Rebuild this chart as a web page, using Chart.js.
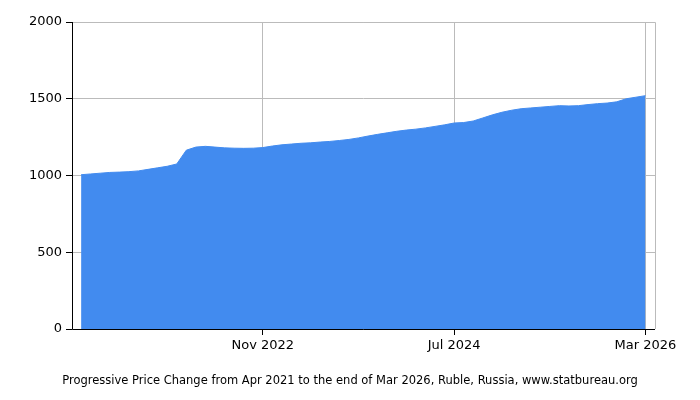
<!DOCTYPE html>
<html><head><meta charset="utf-8">
<script src="https://cdn.jsdelivr.net/npm/chart.js@4"></script>
<style>body{margin:0;background:#fff}</style>
</head><body>
<canvas id="c" width="700" height="400"></canvas>
<script>
const startLabel = "Apr 2021";
const values = [1005,1010,1015,1020,1022,1025,1030,1040,1050,1060,1075,1165,1185,1190,1185,1180,1178,1177,1178,1182,1192,1200,1205,1210,1213,1218,1222,1228,1235,1245,1257,1268,1278,1288,1296,1302,1310,1320,1330,1342,1345,1355,1375,1395,1412,1425,1435,1440,1445,1450,1455,1453,1455,1462,1468,1472,1480,1500,1510,1520];
const tickIdx = [19,39,59];
const tickLabels = ["Nov 2022","Jul 2024","Mar 2026"];
const yTicks = [0,500,1000,1500,2000];
const title = "Progressive Price Change from Apr 2021 to the end of Mar 2026, Ruble, Russia, www.statbureau.org";

const pts = values.map((v,i)=>({x:i,y:v}));
const frame = {id:'frame',afterDraw(c){const a=c.chartArea,x=c.ctx;x.save();x.strokeStyle='#bbb';x.lineWidth=1;
 x.beginPath();x.moveTo(a.left,a.top+0.5);x.lineTo(a.right+0.5,a.top+0.5);x.lineTo(a.right+0.5,a.bottom);x.stroke();
 x.strokeStyle='#000';x.beginPath();x.moveTo(a.left+0.5,a.top);x.lineTo(a.left+0.5,a.bottom+0.5);x.lineTo(a.right,a.bottom+0.5);x.stroke();
 x.fillStyle='#000';x.font='11.5px "DejaVu Sans"';x.textAlign='center';x.textBaseline='middle';x.fillText(title,350,381);
 x.restore();}};
Chart.defaults.font.family="DejaVu Sans";
new Chart(document.getElementById('c'),{
 type:'line',
 data:{datasets:[{data:pts,fill:'origin',backgroundColor:'#428bef',borderColor:'#428bef',borderWidth:1,pointRadius:0,tension:0}]},
 options:{responsive:false,animation:false,
  layout:{padding:{top:22,right:45,left:0,bottom:0}},
  plugins:{legend:{display:false},tooltip:{enabled:false},title:{display:false}},
  scales:{
   x:{type:'linear',min:-0.95,max:60,
    afterBuildTicks(s){s.ticks=tickIdx.map(v=>({value:v}));},
    afterFit(s){s.height=71;},
    ticks:{autoSkip:false,maxRotation:0,color:'#000',font:{size:13},callback:(v)=>tickLabels[tickIdx.indexOf(v)]},
    grid:{color:'#bbb',tickColor:'#000',tickLength:6},border:{display:false}},
   y:{min:0,max:2000,
    afterBuildTicks(s){s.ticks=yTicks.map(v=>({value:v}));},
    afterFit(s){s.width=72;},
    ticks:{color:'#000',font:{size:13},padding:4,callback:(v)=>String(v)},
    grid:{color:'#bbb',tickColor:'#000',tickLength:6},border:{display:false}}
  }},
 plugins:[frame]
});
</script></body></html>
